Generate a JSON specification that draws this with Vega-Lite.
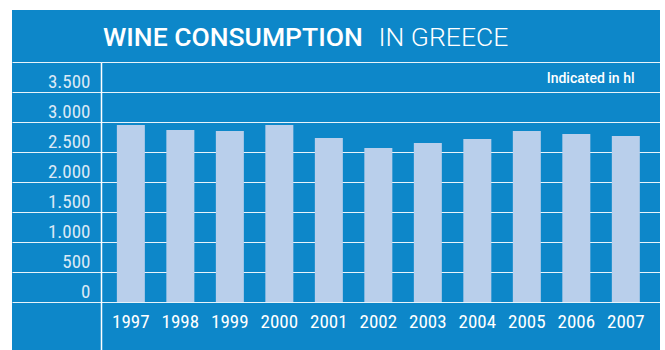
{
  "$schema": "https://vega.github.io/schema/vega-lite/v6.json",
  "width": 648,
  "height": 340,
  "autosize": {"type": "none"},
  "padding": {"left": 12, "top": 10, "right": 5, "bottom": 0},
  "background": "white",
  "title": {
    "text": "WINE CONSUMPTION",
    "anchor": "start",
    "frame": "group",
    "orient": "top",
    "offset": 0,
    "dx": 91,
    "dy": 62,
    "baseline": "alphabetic",
    "font": "Roboto",
    "fontSize": 26.5,
    "fontWeight": 500,
    "color": "white"
  },
  "data": {
    "values": [
      {"year": "1997", "hl": 2950},
      {"year": "1998", "hl": 2867},
      {"year": "1999", "hl": 2850},
      {"year": "2000", "hl": 2950},
      {"year": "2001", "hl": 2733},
      {"year": "2002", "hl": 2567},
      {"year": "2003", "hl": 2650},
      {"year": "2004", "hl": 2717},
      {"year": "2005", "hl": 2850},
      {"year": "2006", "hl": 2800},
      {"year": "2007", "hl": 2767}
    ]
  },
  "mark": {"type": "bar", "color": "#b9cfeb"},
  "encoding": {
    "x": {
      "field": "year",
      "type": "ordinal",
      "scale": {"range": [89, 648], "paddingInner": 0.4343, "paddingOuter": 0.364, "align": 0.44},
      "axis": {
        "orient": "bottom",
        "offset": -48,
        "domain": false,
        "ticks": false,
        "tickSize": 0,
        "grid": false,
        "labelAngle": 0,
        "labelPadding": 25,
        "labelBaseline": "alphabetic",
        "labelFont": "Roboto Condensed",
        "labelFontSize": 19,
        "labelColor": "white",
        "title": "IN GREECE",
        "titleX": 366,
        "titleY": -257,
        "titleAlign": "left",
        "titleBaseline": "alphabetic",
        "titleAnchor": null,
        "titleFont": "Roboto",
        "titleFontSize": 26.5,
        "titleFontWeight": 300,
        "titleColor": "white"
      }
    },
    "y": {
      "field": "hl",
      "type": "quantitative",
      "scale": {"domain": [-800, 4000], "range": [340, 52], "nice": false, "zero": false},
      "axis": {
        "orient": "left",
        "offset": -89,
        "values": [0, 500, 1000, 1500, 2000, 2500, 3000, 3500, 4000],
        "labelExpr": "datum.value >= 4000 ? '' : replace(format(datum.value, ','), ',', '.')",
        "grid": true,
        "gridColor": "white",
        "gridWidth": 1.2,
        "gridOpacity": 0.9,
        "domain": true,
        "domainColor": "white",
        "domainWidth": 1.5,
        "ticks": true,
        "tickSize": 89,
        "tickColor": "white",
        "tickWidth": 1.2,
        "tickOpacity": 0.9,
        "labelPadding": -78,
        "labelOffset": -4.5,
        "labelBaseline": "alphabetic",
        "labelFont": "Roboto Condensed",
        "labelFontSize": 19,
        "labelColor": "#dbe9f6",
        "title": "Indicated in hl",
        "titleAngle": 0,
        "titleX": 533,
        "titleY": 72,
        "titleAlign": "right",
        "titleBaseline": "alphabetic",
        "titleAnchor": null,
        "titleFont": "Roboto",
        "titleFontSize": 14,
        "titleFontWeight": 500,
        "titleColor": "white"
      }
    }
  },
  "config": {
    "view": {"fill": "#0d87c9", "stroke": null}
  }
}
